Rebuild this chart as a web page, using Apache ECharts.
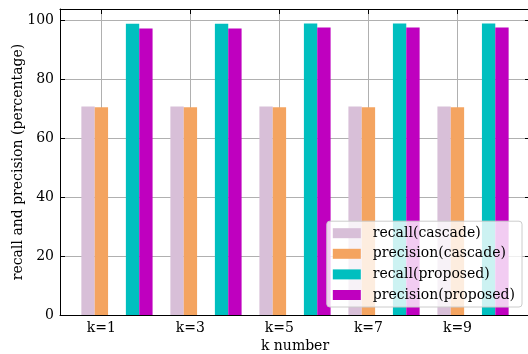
<!DOCTYPE html>
<html>
<head>
<meta charset="utf-8">
<script src="https://cdn.jsdelivr.net/npm/echarts@6/dist/echarts.min.js"></script>
<style>
  html, body { margin: 0; padding: 0; background: #ffffff; }
  #chart { width: 528px; height: 354px; }
</style>
</head>
<body>
<div id="chart"></div>
<script>
// Groups along the x axis
const categories = ['k=1', 'k=3', 'k=5', 'k=7', 'k=9'];

// Percentages per group
const recallCascade     = [70.7, 70.7, 70.7, 70.7, 70.7];
const precisionCascade  = [70.5, 70.5, 70.5, 70.5, 70.5];
const recallProposed    = [98.8, 98.8, 98.9, 98.9, 98.9];
const precisionProposed = [97.2, 97.2, 97.5, 97.5, 97.5];

// Tick labels on the value axis
const yTicks = [0, 20, 40, 60, 80, 100];

// Bar geometry in x-axis units (group index space)
const BAR_W = 0.15;
const seriesDefs = [
  { name: 'recall(cascade)',     values: recallCascade,     offset: -0.15, color: '#D8BFD8' },
  { name: 'precision(cascade)',  values: precisionCascade,  offset: 0.0,   color: '#F4A460' },
  { name: 'recall(proposed)',    values: recallProposed,    offset: 0.35,  color: '#00BFBF' },
  { name: 'precision(proposed)', values: precisionProposed, offset: 0.5,   color: '#BF00BF' }
];

const FONT = 'DejaVu Serif';
const FS = 14;
const xTickValues = categories.map((_, i) => i);

function renderBar(params, api) {
  const x = api.value(0);
  const v = api.value(1);
  const p0 = api.coord([x - BAR_W / 2, v]);
  const p1 = api.coord([x + BAR_W / 2, 0]);
  return {
    type: 'rect',
    shape: { x: p0[0], y: p0[1], width: p1[0] - p0[0], height: p1[1] - p0[1] },
    style: { fill: api.visual('color') }
  };
}

const chart = echarts.init(document.getElementById('chart'), null, { renderer: 'canvas' });

const gridLine = { show: true, lineStyle: { color: '#b0b0b0', width: 1 } };
const frameLine = { show: true, onZero: false, lineStyle: { color: '#000000', width: 1 } };
const innerTick = { show: true, inside: true, length: 5, lineStyle: { color: '#000000' } };

chart.setOption({
  animation: false,
  backgroundColor: '#ffffff',
  grid: { left: 60, top: 9, right: -2, bottom: 39, containLabel: false, outerBoundsMode: 'none' },
  xAxis: [
    {
      type: 'value',
      min: -0.465, max: 4.815,
      name: 'k number',
      nameLocation: 'middle',
      nameGap: 24,
      nameMoveOverlap: false,
      nameTextStyle: { fontFamily: FONT, fontSize: FS, color: '#000' },
      axisLine: frameLine,
      axisTick: Object.assign({}, innerTick, { customValues: xTickValues }),
      splitLine: gridLine,
      axisLabel: {
        customValues: xTickValues,
        formatter: v => categories[Math.round(v)],
        fontFamily: FONT, fontSize: FS, color: '#000', margin: 6
      }
    },
    {
      type: 'value', position: 'top',
      min: -0.465, max: 4.815,
      axisLine: frameLine,
      axisTick: Object.assign({}, innerTick, { customValues: xTickValues }),
      splitLine: { show: false },
      axisLabel: { show: false, customValues: xTickValues }
    }
  ],
  yAxis: [
    {
      type: 'value',
      min: 0, max: 103.8,
      name: 'recall and precision (percentage)',
      nameLocation: 'middle',
      nameGap: 35,
      nameMoveOverlap: false,
      nameTextStyle: { fontFamily: FONT, fontSize: FS, color: '#000' },
      axisLine: frameLine,
      axisTick: Object.assign({}, innerTick, { customValues: yTicks }),
      splitLine: gridLine,
      axisLabel: { customValues: yTicks, fontFamily: FONT, fontSize: FS, color: '#000', margin: 6 }
    },
    {
      type: 'value', position: 'right',
      min: 0, max: 103.8,
      axisLine: frameLine,
      axisTick: Object.assign({}, innerTick, { customValues: yTicks }),
      splitLine: { show: false },
      axisLabel: { show: false, customValues: yTicks }
    }
  ],
  legend: {
    orient: 'vertical',
    right: 6,
    bottom: 47,
    itemWidth: 28,
    itemHeight: 10,
    itemGap: 4.6,
    icon: 'rect',
    padding: [4, 7, 4, 6],
    backgroundColor: 'rgba(255,255,255,0.8)',
    borderColor: '#cccccc',
    borderWidth: 1,
    borderRadius: 3,
    textStyle: { fontFamily: FONT, fontSize: FS, color: '#000', lineHeight: 16, padding: [0, 0, 0, 7] },
    data: seriesDefs.map(s => s.name)
  },
  series: seriesDefs.map(s => ({
    type: 'custom',
    name: s.name,
    xAxisIndex: 0,
    yAxisIndex: 0,
    itemStyle: { color: s.color },
    encode: { x: 0, y: 1 },
    renderItem: renderBar,
    data: s.values.map((v, i) => [i + s.offset, v])
  }))
});
</script>
</body>
</html>
